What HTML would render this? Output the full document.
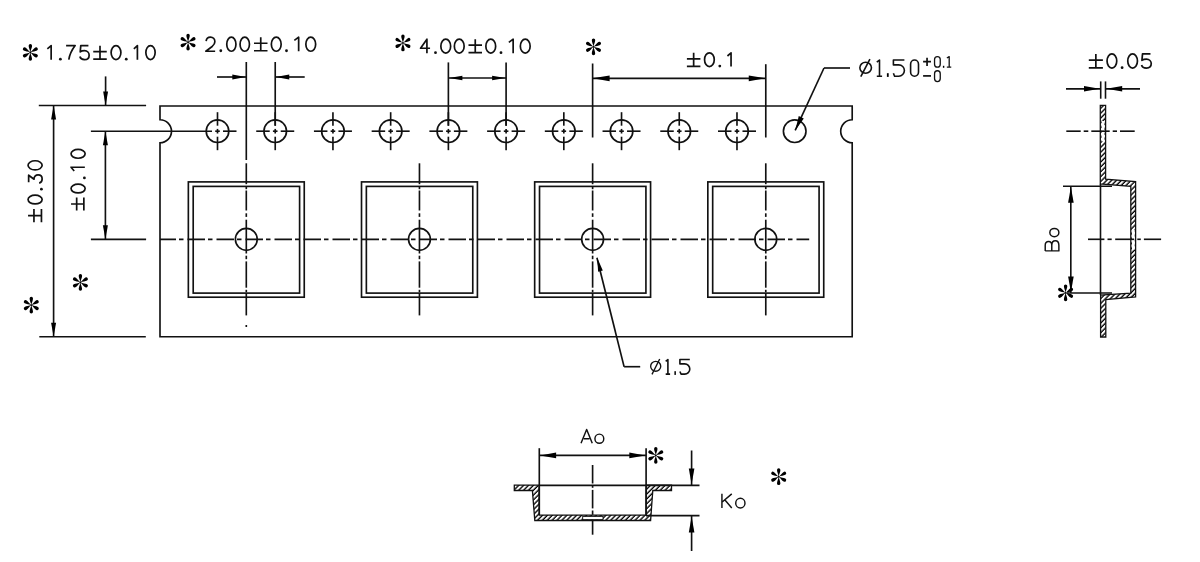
<!DOCTYPE html>
<html><head><meta charset="utf-8"><title>Tape drawing</title>
<style>html,body{margin:0;padding:0;background:#fff;width:1200px;height:562px;overflow:hidden}text{font-family:"Liberation Sans",sans-serif}</style>
</head><body>
<svg width="1200" height="562" viewBox="0 0 1200 562" style="display:block">
<defs><pattern id="hatch" patternUnits="userSpaceOnUse" width="3.45" height="3.45" patternTransform="rotate(45)"><rect width="3.45" height="3.45" fill="#000"/><rect x="0" y="0" width="2.1" height="3.45" fill="#fff"/></pattern></defs>
<rect width="1200" height="562" fill="#fff"/>
<g stroke="#111" fill="none" stroke-linecap="butt">
<path d="M 160.0 106.0 L 852.2 106.0 L 852.2 119.69999999999999 A 11.5 11.5 0 0 0 852.2 142.7 L 852.2 336.7 L 160.0 336.7 L 160.0 142.7 A 11.5 11.5 0 0 0 160.0 119.69999999999999 Z" fill="none" stroke-width="1.65" stroke-linejoin="miter"/>
<circle cx="217.50" cy="131.20" r="11.30" fill="none" stroke-width="1.65"/>
<line x1="223.00" y1="131.20" x2="236.50" y2="131.20" stroke-width="1.65" />
<line x1="215.20" y1="131.20" x2="219.80" y2="131.20" stroke-width="1.65" />
<line x1="217.50" y1="112.20" x2="217.50" y2="125.70" stroke-width="1.65" />
<line x1="217.50" y1="136.70" x2="217.50" y2="150.20" stroke-width="1.65" />
<line x1="217.50" y1="128.90" x2="217.50" y2="133.50" stroke-width="1.65" />
<circle cx="275.22" cy="131.20" r="11.30" fill="none" stroke-width="1.65"/>
<line x1="256.22" y1="131.20" x2="269.72" y2="131.20" stroke-width="1.65" />
<line x1="280.72" y1="131.20" x2="294.22" y2="131.20" stroke-width="1.65" />
<line x1="272.92" y1="131.20" x2="277.52" y2="131.20" stroke-width="1.65" />
<line x1="275.22" y1="112.20" x2="275.22" y2="125.70" stroke-width="1.65" />
<line x1="275.22" y1="136.70" x2="275.22" y2="150.20" stroke-width="1.65" />
<line x1="275.22" y1="128.90" x2="275.22" y2="133.50" stroke-width="1.65" />
<circle cx="332.94" cy="131.20" r="11.30" fill="none" stroke-width="1.65"/>
<line x1="313.94" y1="131.20" x2="327.44" y2="131.20" stroke-width="1.65" />
<line x1="338.44" y1="131.20" x2="351.94" y2="131.20" stroke-width="1.65" />
<line x1="330.64" y1="131.20" x2="335.24" y2="131.20" stroke-width="1.65" />
<line x1="332.94" y1="112.20" x2="332.94" y2="125.70" stroke-width="1.65" />
<line x1="332.94" y1="136.70" x2="332.94" y2="150.20" stroke-width="1.65" />
<line x1="332.94" y1="128.90" x2="332.94" y2="133.50" stroke-width="1.65" />
<circle cx="390.66" cy="131.20" r="11.30" fill="none" stroke-width="1.65"/>
<line x1="371.66" y1="131.20" x2="385.16" y2="131.20" stroke-width="1.65" />
<line x1="396.16" y1="131.20" x2="409.66" y2="131.20" stroke-width="1.65" />
<line x1="388.36" y1="131.20" x2="392.96" y2="131.20" stroke-width="1.65" />
<line x1="390.66" y1="112.20" x2="390.66" y2="125.70" stroke-width="1.65" />
<line x1="390.66" y1="136.70" x2="390.66" y2="150.20" stroke-width="1.65" />
<line x1="390.66" y1="128.90" x2="390.66" y2="133.50" stroke-width="1.65" />
<circle cx="448.38" cy="131.20" r="11.30" fill="none" stroke-width="1.65"/>
<line x1="429.38" y1="131.20" x2="442.88" y2="131.20" stroke-width="1.65" />
<line x1="453.88" y1="131.20" x2="467.38" y2="131.20" stroke-width="1.65" />
<line x1="446.08" y1="131.20" x2="450.68" y2="131.20" stroke-width="1.65" />
<line x1="448.38" y1="112.20" x2="448.38" y2="125.70" stroke-width="1.65" />
<line x1="448.38" y1="136.70" x2="448.38" y2="150.20" stroke-width="1.65" />
<line x1="448.38" y1="128.90" x2="448.38" y2="133.50" stroke-width="1.65" />
<circle cx="506.10" cy="131.20" r="11.30" fill="none" stroke-width="1.65"/>
<line x1="487.10" y1="131.20" x2="500.60" y2="131.20" stroke-width="1.65" />
<line x1="511.60" y1="131.20" x2="525.10" y2="131.20" stroke-width="1.65" />
<line x1="503.80" y1="131.20" x2="508.40" y2="131.20" stroke-width="1.65" />
<line x1="506.10" y1="112.20" x2="506.10" y2="125.70" stroke-width="1.65" />
<line x1="506.10" y1="136.70" x2="506.10" y2="150.20" stroke-width="1.65" />
<line x1="506.10" y1="128.90" x2="506.10" y2="133.50" stroke-width="1.65" />
<circle cx="563.82" cy="131.20" r="11.30" fill="none" stroke-width="1.65"/>
<line x1="544.82" y1="131.20" x2="558.32" y2="131.20" stroke-width="1.65" />
<line x1="569.32" y1="131.20" x2="582.82" y2="131.20" stroke-width="1.65" />
<line x1="561.52" y1="131.20" x2="566.12" y2="131.20" stroke-width="1.65" />
<line x1="563.82" y1="112.20" x2="563.82" y2="125.70" stroke-width="1.65" />
<line x1="563.82" y1="136.70" x2="563.82" y2="150.20" stroke-width="1.65" />
<line x1="563.82" y1="128.90" x2="563.82" y2="133.50" stroke-width="1.65" />
<circle cx="621.54" cy="131.20" r="11.30" fill="none" stroke-width="1.65"/>
<line x1="602.54" y1="131.20" x2="616.04" y2="131.20" stroke-width="1.65" />
<line x1="627.04" y1="131.20" x2="640.54" y2="131.20" stroke-width="1.65" />
<line x1="619.24" y1="131.20" x2="623.84" y2="131.20" stroke-width="1.65" />
<line x1="621.54" y1="112.20" x2="621.54" y2="125.70" stroke-width="1.65" />
<line x1="621.54" y1="136.70" x2="621.54" y2="150.20" stroke-width="1.65" />
<line x1="621.54" y1="128.90" x2="621.54" y2="133.50" stroke-width="1.65" />
<circle cx="679.26" cy="131.20" r="11.30" fill="none" stroke-width="1.65"/>
<line x1="660.26" y1="131.20" x2="673.76" y2="131.20" stroke-width="1.65" />
<line x1="684.76" y1="131.20" x2="698.26" y2="131.20" stroke-width="1.65" />
<line x1="676.96" y1="131.20" x2="681.56" y2="131.20" stroke-width="1.65" />
<line x1="679.26" y1="112.20" x2="679.26" y2="125.70" stroke-width="1.65" />
<line x1="679.26" y1="136.70" x2="679.26" y2="150.20" stroke-width="1.65" />
<line x1="679.26" y1="128.90" x2="679.26" y2="133.50" stroke-width="1.65" />
<circle cx="736.98" cy="131.20" r="11.30" fill="none" stroke-width="1.65"/>
<line x1="717.98" y1="131.20" x2="731.48" y2="131.20" stroke-width="1.65" />
<line x1="742.48" y1="131.20" x2="755.98" y2="131.20" stroke-width="1.65" />
<line x1="734.68" y1="131.20" x2="739.28" y2="131.20" stroke-width="1.65" />
<line x1="736.98" y1="112.20" x2="736.98" y2="125.70" stroke-width="1.65" />
<line x1="736.98" y1="136.70" x2="736.98" y2="150.20" stroke-width="1.65" />
<line x1="736.98" y1="128.90" x2="736.98" y2="133.50" stroke-width="1.65" />
<circle cx="794.70" cy="131.20" r="11.30" fill="none" stroke-width="1.65"/>
<line x1="90.90" y1="131.20" x2="212.00" y2="131.20" stroke-width="1.65" />
<rect x="188.35" y="181.9" width="115.9" height="115.3" fill="none" stroke-width="1.65"/>
<rect x="193.20" y="186.4" width="106.4" height="106.7" fill="none" stroke-width="1.65"/>
<circle cx="246.30" cy="239.30" r="10.90" fill="none" stroke-width="1.65"/>
<line x1="246.30" y1="163.30" x2="246.30" y2="184.20" stroke-width="1.65" />
<line x1="246.30" y1="186.40" x2="246.30" y2="189.20" stroke-width="1.65" />
<line x1="246.30" y1="190.50" x2="246.30" y2="210.50" stroke-width="1.65" />
<line x1="246.30" y1="213.30" x2="246.30" y2="216.90" stroke-width="1.65" />
<line x1="246.30" y1="219.70" x2="246.30" y2="253.50" stroke-width="1.65" />
<line x1="246.30" y1="255.70" x2="246.30" y2="259.20" stroke-width="1.65" />
<line x1="246.30" y1="261.40" x2="246.30" y2="287.70" stroke-width="1.65" />
<line x1="246.30" y1="289.80" x2="246.30" y2="292.20" stroke-width="1.65" />
<line x1="246.30" y1="293.20" x2="246.30" y2="315.40" stroke-width="1.65" />
<rect x="361.51" y="181.9" width="115.9" height="115.3" fill="none" stroke-width="1.65"/>
<rect x="366.36" y="186.4" width="106.4" height="106.7" fill="none" stroke-width="1.65"/>
<circle cx="419.46" cy="239.30" r="10.90" fill="none" stroke-width="1.65"/>
<line x1="419.46" y1="163.30" x2="419.46" y2="184.20" stroke-width="1.65" />
<line x1="419.46" y1="186.40" x2="419.46" y2="189.20" stroke-width="1.65" />
<line x1="419.46" y1="190.50" x2="419.46" y2="210.50" stroke-width="1.65" />
<line x1="419.46" y1="213.30" x2="419.46" y2="216.90" stroke-width="1.65" />
<line x1="419.46" y1="219.70" x2="419.46" y2="253.50" stroke-width="1.65" />
<line x1="419.46" y1="255.70" x2="419.46" y2="259.20" stroke-width="1.65" />
<line x1="419.46" y1="261.40" x2="419.46" y2="287.70" stroke-width="1.65" />
<line x1="419.46" y1="289.80" x2="419.46" y2="292.20" stroke-width="1.65" />
<line x1="419.46" y1="293.20" x2="419.46" y2="315.40" stroke-width="1.65" />
<rect x="534.67" y="181.9" width="115.9" height="115.3" fill="none" stroke-width="1.65"/>
<rect x="539.52" y="186.4" width="106.4" height="106.7" fill="none" stroke-width="1.65"/>
<circle cx="592.62" cy="239.30" r="10.90" fill="none" stroke-width="1.65"/>
<line x1="592.62" y1="163.30" x2="592.62" y2="184.20" stroke-width="1.65" />
<line x1="592.62" y1="186.40" x2="592.62" y2="189.20" stroke-width="1.65" />
<line x1="592.62" y1="190.50" x2="592.62" y2="210.50" stroke-width="1.65" />
<line x1="592.62" y1="213.30" x2="592.62" y2="216.90" stroke-width="1.65" />
<line x1="592.62" y1="219.70" x2="592.62" y2="253.50" stroke-width="1.65" />
<line x1="592.62" y1="255.70" x2="592.62" y2="259.20" stroke-width="1.65" />
<line x1="592.62" y1="261.40" x2="592.62" y2="287.70" stroke-width="1.65" />
<line x1="592.62" y1="289.80" x2="592.62" y2="292.20" stroke-width="1.65" />
<line x1="592.62" y1="293.20" x2="592.62" y2="315.40" stroke-width="1.65" />
<rect x="707.83" y="181.9" width="115.9" height="115.3" fill="none" stroke-width="1.65"/>
<rect x="712.68" y="186.4" width="106.4" height="106.7" fill="none" stroke-width="1.65"/>
<circle cx="765.78" cy="239.30" r="10.90" fill="none" stroke-width="1.65"/>
<line x1="765.78" y1="163.30" x2="765.78" y2="184.20" stroke-width="1.65" />
<line x1="765.78" y1="186.40" x2="765.78" y2="189.20" stroke-width="1.65" />
<line x1="765.78" y1="190.50" x2="765.78" y2="210.50" stroke-width="1.65" />
<line x1="765.78" y1="213.30" x2="765.78" y2="216.90" stroke-width="1.65" />
<line x1="765.78" y1="219.70" x2="765.78" y2="253.50" stroke-width="1.65" />
<line x1="765.78" y1="255.70" x2="765.78" y2="259.20" stroke-width="1.65" />
<line x1="765.78" y1="261.40" x2="765.78" y2="287.70" stroke-width="1.65" />
<line x1="765.78" y1="289.80" x2="765.78" y2="292.20" stroke-width="1.65" />
<line x1="765.78" y1="293.20" x2="765.78" y2="315.40" stroke-width="1.65" />
<line x1="246.30" y1="325.00" x2="246.30" y2="327.00" stroke-width="1.65" />
<line x1="160.00" y1="239.30" x2="809.20" y2="239.30" stroke-width="1.65" stroke-dasharray="17.5 3 4.5 4" stroke-dashoffset="1.5"/>
<line x1="38.80" y1="105.50" x2="146.10" y2="105.50" stroke-width="1.65" />
<line x1="90.90" y1="239.30" x2="146.10" y2="239.30" stroke-width="1.65" />
<line x1="39.30" y1="336.70" x2="145.80" y2="336.70" stroke-width="1.65" />
<line x1="53.60" y1="105.50" x2="53.60" y2="336.70" stroke-width="1.65" />
<polygon points="53.60,105.50 56.10,119.50 51.10,119.50" fill="#000" stroke="none"/>
<polygon points="53.60,336.70 51.10,322.70 56.10,322.70" fill="#000" stroke="none"/>
<line x1="105.40" y1="131.20" x2="105.40" y2="239.30" stroke-width="1.65" />
<polygon points="105.40,131.20 107.90,145.20 102.90,145.20" fill="#000" stroke="none"/>
<polygon points="105.40,239.30 102.90,225.30 107.90,225.30" fill="#000" stroke="none"/>
<line x1="105.60" y1="76.40" x2="105.60" y2="105.50" stroke-width="1.65" />
<polygon points="105.60,105.50 103.15,91.50 108.05,91.50" fill="#000" stroke="none"/>
<line x1="246.30" y1="62.00" x2="246.30" y2="160.00" stroke-width="1.65" />
<line x1="275.22" y1="62.00" x2="275.22" y2="125.70" stroke-width="1.65" />
<line x1="217.00" y1="77.00" x2="246.30" y2="77.00" stroke-width="1.65" />
<polygon points="245.80,77.00 232.30,79.40 232.30,74.60" fill="#000" stroke="none"/>
<line x1="275.22" y1="77.00" x2="304.70" y2="77.00" stroke-width="1.65" />
<polygon points="275.72,77.00 289.22,74.60 289.22,79.40" fill="#000" stroke="none"/>
<line x1="448.38" y1="62.40" x2="448.38" y2="125.70" stroke-width="1.65" />
<line x1="506.10" y1="62.40" x2="506.10" y2="125.70" stroke-width="1.65" />
<line x1="448.38" y1="78.00" x2="506.10" y2="78.00" stroke-width="1.65" />
<polygon points="448.98,78.00 462.38,75.65 462.38,80.35" fill="#000" stroke="none"/>
<polygon points="505.50,78.00 492.10,80.35 492.10,75.65" fill="#000" stroke="none"/>
<line x1="592.62" y1="63.50" x2="592.62" y2="137.50" stroke-width="1.65" />
<line x1="765.78" y1="64.20" x2="765.78" y2="137.50" stroke-width="1.65" />
<line x1="592.62" y1="78.30" x2="765.78" y2="78.30" stroke-width="1.65" />
<polygon points="592.62,78.30 609.62,75.45 609.62,81.15" fill="#000" stroke="none"/>
<polygon points="765.78,78.30 748.78,81.15 748.78,75.45" fill="#000" stroke="none"/>
<line x1="795.20" y1="130.40" x2="824.00" y2="68.00" stroke-width="1.65" />
<polygon points="795.20,130.40 798.78,116.08 803.77,118.39" fill="#000" stroke="none"/>
<line x1="824.00" y1="68.00" x2="850.00" y2="68.00" stroke-width="1.65" />
<line x1="596.90" y1="257.80" x2="624.10" y2="366.70" stroke-width="1.65" />
<polygon points="597.10,257.50 602.79,270.51 598.13,271.67" fill="#000" stroke="none"/>
<line x1="624.10" y1="366.70" x2="640.20" y2="366.70" stroke-width="1.65" />
<path d="M 1100.3 105.3 L 1105.6 105.3 L 1105.6 179.2 L 1135.6 181.6 L 1135.6 297.0 L 1105.8 299.5 L 1105.8 337.0 L 1100.6 337.0 L 1100.6 295.0 L 1130.8 293.2 L 1130.8 186.3 L 1100.3 183.9 Z" fill="url(#hatch)" stroke-width="1.3" />
<rect x="1101.6" y="120.9" width="2.8" height="20.5" fill="#fff" stroke="none"/>
<rect x="1132.0" y="230.0" width="2.7" height="19.5" fill="#fff" stroke="none"/>
<line x1="1100.50" y1="183.90" x2="1100.50" y2="295.00" stroke-width="1.6" />
<line x1="1063.00" y1="186.20" x2="1112.00" y2="186.20" stroke-width="1.65" />
<line x1="1067.00" y1="293.00" x2="1112.00" y2="293.00" stroke-width="1.65" />
<line x1="1070.80" y1="186.30" x2="1070.80" y2="293.00" stroke-width="1.65" />
<polygon points="1070.90,187.00 1073.70,202.80 1068.10,202.80" fill="#000" stroke="none"/>
<polygon points="1070.90,292.30 1068.10,276.50 1073.70,276.50" fill="#000" stroke="none"/>
<line x1="1066.30" y1="131.20" x2="1080.70" y2="131.20" stroke-width="1.65" />
<line x1="1083.70" y1="131.20" x2="1088.30" y2="131.20" stroke-width="1.65" />
<line x1="1091.30" y1="131.20" x2="1109.70" y2="131.20" stroke-width="1.65" />
<line x1="1112.70" y1="131.20" x2="1117.00" y2="131.20" stroke-width="1.65" />
<line x1="1120.00" y1="131.20" x2="1134.70" y2="131.20" stroke-width="1.65" />
<line x1="1088.00" y1="239.30" x2="1104.40" y2="239.30" stroke-width="1.65" />
<line x1="1107.50" y1="239.30" x2="1111.70" y2="239.30" stroke-width="1.65" />
<line x1="1115.20" y1="239.30" x2="1134.10" y2="239.30" stroke-width="1.65" />
<line x1="1137.30" y1="239.30" x2="1140.80" y2="239.30" stroke-width="1.65" />
<line x1="1143.90" y1="239.30" x2="1161.10" y2="239.30" stroke-width="1.65" />
<line x1="1100.70" y1="81.40" x2="1100.70" y2="98.70" stroke-width="1.6" />
<line x1="1105.50" y1="81.40" x2="1105.50" y2="98.70" stroke-width="1.6" />
<line x1="1066.00" y1="88.80" x2="1100.70" y2="88.80" stroke-width="1.65" />
<polygon points="1099.60,88.80 1084.00,91.60 1084.00,86.00" fill="#000" stroke="none"/>
<line x1="1105.50" y1="88.80" x2="1140.00" y2="88.80" stroke-width="1.65" />
<polygon points="1106.40,88.80 1122.20,86.00 1122.20,91.60" fill="#000" stroke="none"/>
<path d="M 514.3 485.1 L 539.1 485.1 L 539.3 515.1 L 646.0 515.1 L 646.2 485.1 L 671.5 485.1 L 671.5 490.5 L 652.8 490.5 L 650.6 520.5 L 534.8 520.5 L 532.4 490.5 L 514.3 490.5 Z" fill="url(#hatch)" stroke-width="1.3" />
<line x1="539.30" y1="448.20" x2="539.30" y2="515.10" stroke-width="1.65" />
<line x1="646.10" y1="448.20" x2="646.10" y2="515.10" stroke-width="1.65" />
<line x1="539.30" y1="455.40" x2="646.10" y2="455.40" stroke-width="1.65" />
<polygon points="540.10,455.40 556.10,452.60 556.10,458.20" fill="#000" stroke="none"/>
<polygon points="645.30,455.40 629.30,458.20 629.30,452.60" fill="#000" stroke="none"/>
<line x1="539.30" y1="485.30" x2="699.50" y2="485.30" stroke-width="1.65" />
<line x1="646.00" y1="515.60" x2="699.50" y2="515.60" stroke-width="1.65" />
<line x1="592.60" y1="465.00" x2="592.60" y2="483.50" stroke-width="1.65" />
<line x1="592.60" y1="485.60" x2="592.60" y2="487.80" stroke-width="1.65" />
<line x1="592.60" y1="489.90" x2="592.60" y2="508.40" stroke-width="1.65" />
<line x1="592.60" y1="510.50" x2="592.60" y2="514.80" stroke-width="1.65" />
<line x1="592.60" y1="520.50" x2="592.60" y2="534.70" stroke-width="1.65" />
<rect x="582.7" y="516.4" width="20.3" height="3.2" fill="#fff" stroke="#111" stroke-width="0.9"/>
<line x1="691.60" y1="450.50" x2="691.60" y2="485.30" stroke-width="1.65" />
<polygon points="691.60,484.60 688.80,468.60 694.40,468.60" fill="#000" stroke="none"/>
<line x1="691.60" y1="515.60" x2="691.60" y2="551.00" stroke-width="1.65" />
<polygon points="691.60,516.40 694.40,532.40 688.80,532.40" fill="#000" stroke="none"/>
<g transform="translate(30.35 52.40)" fill="#000" stroke="none"><path d="M 0 0 C -0.45 -2.6 -1.70 -4.70 -1.70 -6.70 A 1.7 1.7 0 0 1 1.70 -6.70 C 1.70 -4.70 0.45 -2.6 0 0 Z" transform="rotate(0)"/><path d="M 0 0 C -0.45 -2.6 -1.70 -4.70 -1.70 -6.70 A 1.7 1.7 0 0 1 1.70 -6.70 C 1.70 -4.70 0.45 -2.6 0 0 Z" transform="rotate(60)"/><path d="M 0 0 C -0.45 -2.6 -1.70 -4.70 -1.70 -6.70 A 1.7 1.7 0 0 1 1.70 -6.70 C 1.70 -4.70 0.45 -2.6 0 0 Z" transform="rotate(120)"/><path d="M 0 0 C -0.45 -2.6 -1.70 -4.70 -1.70 -6.70 A 1.7 1.7 0 0 1 1.70 -6.70 C 1.70 -4.70 0.45 -2.6 0 0 Z" transform="rotate(180)"/><path d="M 0 0 C -0.45 -2.6 -1.70 -4.70 -1.70 -6.70 A 1.7 1.7 0 0 1 1.70 -6.70 C 1.70 -4.70 0.45 -2.6 0 0 Z" transform="rotate(240)"/><path d="M 0 0 C -0.45 -2.6 -1.70 -4.70 -1.70 -6.70 A 1.7 1.7 0 0 1 1.70 -6.70 C 1.70 -4.70 0.45 -2.6 0 0 Z" transform="rotate(300)"/><circle r="0.9"/></g>
<g transform="translate(188.07 42.13)" fill="#000" stroke="none"><path d="M 0 0 C -0.45 -2.6 -1.70 -4.70 -1.70 -6.70 A 1.7 1.7 0 0 1 1.70 -6.70 C 1.70 -4.70 0.45 -2.6 0 0 Z" transform="rotate(0)"/><path d="M 0 0 C -0.45 -2.6 -1.70 -4.70 -1.70 -6.70 A 1.7 1.7 0 0 1 1.70 -6.70 C 1.70 -4.70 0.45 -2.6 0 0 Z" transform="rotate(60)"/><path d="M 0 0 C -0.45 -2.6 -1.70 -4.70 -1.70 -6.70 A 1.7 1.7 0 0 1 1.70 -6.70 C 1.70 -4.70 0.45 -2.6 0 0 Z" transform="rotate(120)"/><path d="M 0 0 C -0.45 -2.6 -1.70 -4.70 -1.70 -6.70 A 1.7 1.7 0 0 1 1.70 -6.70 C 1.70 -4.70 0.45 -2.6 0 0 Z" transform="rotate(180)"/><path d="M 0 0 C -0.45 -2.6 -1.70 -4.70 -1.70 -6.70 A 1.7 1.7 0 0 1 1.70 -6.70 C 1.70 -4.70 0.45 -2.6 0 0 Z" transform="rotate(240)"/><path d="M 0 0 C -0.45 -2.6 -1.70 -4.70 -1.70 -6.70 A 1.7 1.7 0 0 1 1.70 -6.70 C 1.70 -4.70 0.45 -2.6 0 0 Z" transform="rotate(300)"/><circle r="0.9"/></g>
<g transform="translate(402.94 42.95)" fill="#000" stroke="none"><path d="M 0 0 C -0.45 -2.6 -1.70 -4.70 -1.70 -6.70 A 1.7 1.7 0 0 1 1.70 -6.70 C 1.70 -4.70 0.45 -2.6 0 0 Z" transform="rotate(0)"/><path d="M 0 0 C -0.45 -2.6 -1.70 -4.70 -1.70 -6.70 A 1.7 1.7 0 0 1 1.70 -6.70 C 1.70 -4.70 0.45 -2.6 0 0 Z" transform="rotate(60)"/><path d="M 0 0 C -0.45 -2.6 -1.70 -4.70 -1.70 -6.70 A 1.7 1.7 0 0 1 1.70 -6.70 C 1.70 -4.70 0.45 -2.6 0 0 Z" transform="rotate(120)"/><path d="M 0 0 C -0.45 -2.6 -1.70 -4.70 -1.70 -6.70 A 1.7 1.7 0 0 1 1.70 -6.70 C 1.70 -4.70 0.45 -2.6 0 0 Z" transform="rotate(180)"/><path d="M 0 0 C -0.45 -2.6 -1.70 -4.70 -1.70 -6.70 A 1.7 1.7 0 0 1 1.70 -6.70 C 1.70 -4.70 0.45 -2.6 0 0 Z" transform="rotate(240)"/><path d="M 0 0 C -0.45 -2.6 -1.70 -4.70 -1.70 -6.70 A 1.7 1.7 0 0 1 1.70 -6.70 C 1.70 -4.70 0.45 -2.6 0 0 Z" transform="rotate(300)"/><circle r="0.9"/></g>
<g transform="translate(593.50 46.80)" fill="#000" stroke="none"><path d="M 0 0 C -0.45 -2.6 -1.70 -4.70 -1.70 -6.70 A 1.7 1.7 0 0 1 1.70 -6.70 C 1.70 -4.70 0.45 -2.6 0 0 Z" transform="rotate(0)"/><path d="M 0 0 C -0.45 -2.6 -1.70 -4.70 -1.70 -6.70 A 1.7 1.7 0 0 1 1.70 -6.70 C 1.70 -4.70 0.45 -2.6 0 0 Z" transform="rotate(60)"/><path d="M 0 0 C -0.45 -2.6 -1.70 -4.70 -1.70 -6.70 A 1.7 1.7 0 0 1 1.70 -6.70 C 1.70 -4.70 0.45 -2.6 0 0 Z" transform="rotate(120)"/><path d="M 0 0 C -0.45 -2.6 -1.70 -4.70 -1.70 -6.70 A 1.7 1.7 0 0 1 1.70 -6.70 C 1.70 -4.70 0.45 -2.6 0 0 Z" transform="rotate(180)"/><path d="M 0 0 C -0.45 -2.6 -1.70 -4.70 -1.70 -6.70 A 1.7 1.7 0 0 1 1.70 -6.70 C 1.70 -4.70 0.45 -2.6 0 0 Z" transform="rotate(240)"/><path d="M 0 0 C -0.45 -2.6 -1.70 -4.70 -1.70 -6.70 A 1.7 1.7 0 0 1 1.70 -6.70 C 1.70 -4.70 0.45 -2.6 0 0 Z" transform="rotate(300)"/><circle r="0.9"/></g>
<g transform="translate(80.40 282.40)" fill="#000" stroke="none"><path d="M 0 0 C -0.45 -2.6 -1.70 -4.70 -1.70 -6.70 A 1.7 1.7 0 0 1 1.70 -6.70 C 1.70 -4.70 0.45 -2.6 0 0 Z" transform="rotate(0)"/><path d="M 0 0 C -0.45 -2.6 -1.70 -4.70 -1.70 -6.70 A 1.7 1.7 0 0 1 1.70 -6.70 C 1.70 -4.70 0.45 -2.6 0 0 Z" transform="rotate(60)"/><path d="M 0 0 C -0.45 -2.6 -1.70 -4.70 -1.70 -6.70 A 1.7 1.7 0 0 1 1.70 -6.70 C 1.70 -4.70 0.45 -2.6 0 0 Z" transform="rotate(120)"/><path d="M 0 0 C -0.45 -2.6 -1.70 -4.70 -1.70 -6.70 A 1.7 1.7 0 0 1 1.70 -6.70 C 1.70 -4.70 0.45 -2.6 0 0 Z" transform="rotate(180)"/><path d="M 0 0 C -0.45 -2.6 -1.70 -4.70 -1.70 -6.70 A 1.7 1.7 0 0 1 1.70 -6.70 C 1.70 -4.70 0.45 -2.6 0 0 Z" transform="rotate(240)"/><path d="M 0 0 C -0.45 -2.6 -1.70 -4.70 -1.70 -6.70 A 1.7 1.7 0 0 1 1.70 -6.70 C 1.70 -4.70 0.45 -2.6 0 0 Z" transform="rotate(300)"/><circle r="0.9"/></g>
<g transform="translate(31.30 305.10)" fill="#000" stroke="none"><path d="M 0 0 C -0.45 -2.6 -1.70 -4.70 -1.70 -6.70 A 1.7 1.7 0 0 1 1.70 -6.70 C 1.70 -4.70 0.45 -2.6 0 0 Z" transform="rotate(0)"/><path d="M 0 0 C -0.45 -2.6 -1.70 -4.70 -1.70 -6.70 A 1.7 1.7 0 0 1 1.70 -6.70 C 1.70 -4.70 0.45 -2.6 0 0 Z" transform="rotate(60)"/><path d="M 0 0 C -0.45 -2.6 -1.70 -4.70 -1.70 -6.70 A 1.7 1.7 0 0 1 1.70 -6.70 C 1.70 -4.70 0.45 -2.6 0 0 Z" transform="rotate(120)"/><path d="M 0 0 C -0.45 -2.6 -1.70 -4.70 -1.70 -6.70 A 1.7 1.7 0 0 1 1.70 -6.70 C 1.70 -4.70 0.45 -2.6 0 0 Z" transform="rotate(180)"/><path d="M 0 0 C -0.45 -2.6 -1.70 -4.70 -1.70 -6.70 A 1.7 1.7 0 0 1 1.70 -6.70 C 1.70 -4.70 0.45 -2.6 0 0 Z" transform="rotate(240)"/><path d="M 0 0 C -0.45 -2.6 -1.70 -4.70 -1.70 -6.70 A 1.7 1.7 0 0 1 1.70 -6.70 C 1.70 -4.70 0.45 -2.6 0 0 Z" transform="rotate(300)"/><circle r="0.9"/></g>
<g transform="translate(1065.60 292.80)" fill="#000" stroke="none"><path d="M 0 0 C -0.45 -2.6 -1.70 -4.70 -1.70 -6.70 A 1.7 1.7 0 0 1 1.70 -6.70 C 1.70 -4.70 0.45 -2.6 0 0 Z" transform="rotate(0)"/><path d="M 0 0 C -0.45 -2.6 -1.70 -4.70 -1.70 -6.70 A 1.7 1.7 0 0 1 1.70 -6.70 C 1.70 -4.70 0.45 -2.6 0 0 Z" transform="rotate(60)"/><path d="M 0 0 C -0.45 -2.6 -1.70 -4.70 -1.70 -6.70 A 1.7 1.7 0 0 1 1.70 -6.70 C 1.70 -4.70 0.45 -2.6 0 0 Z" transform="rotate(120)"/><path d="M 0 0 C -0.45 -2.6 -1.70 -4.70 -1.70 -6.70 A 1.7 1.7 0 0 1 1.70 -6.70 C 1.70 -4.70 0.45 -2.6 0 0 Z" transform="rotate(180)"/><path d="M 0 0 C -0.45 -2.6 -1.70 -4.70 -1.70 -6.70 A 1.7 1.7 0 0 1 1.70 -6.70 C 1.70 -4.70 0.45 -2.6 0 0 Z" transform="rotate(240)"/><path d="M 0 0 C -0.45 -2.6 -1.70 -4.70 -1.70 -6.70 A 1.7 1.7 0 0 1 1.70 -6.70 C 1.70 -4.70 0.45 -2.6 0 0 Z" transform="rotate(300)"/><circle r="0.9"/></g>
<g transform="translate(655.80 455.40)" fill="#000" stroke="none"><path d="M 0 0 C -0.45 -2.6 -1.70 -4.70 -1.70 -6.70 A 1.7 1.7 0 0 1 1.70 -6.70 C 1.70 -4.70 0.45 -2.6 0 0 Z" transform="rotate(0)"/><path d="M 0 0 C -0.45 -2.6 -1.70 -4.70 -1.70 -6.70 A 1.7 1.7 0 0 1 1.70 -6.70 C 1.70 -4.70 0.45 -2.6 0 0 Z" transform="rotate(60)"/><path d="M 0 0 C -0.45 -2.6 -1.70 -4.70 -1.70 -6.70 A 1.7 1.7 0 0 1 1.70 -6.70 C 1.70 -4.70 0.45 -2.6 0 0 Z" transform="rotate(120)"/><path d="M 0 0 C -0.45 -2.6 -1.70 -4.70 -1.70 -6.70 A 1.7 1.7 0 0 1 1.70 -6.70 C 1.70 -4.70 0.45 -2.6 0 0 Z" transform="rotate(180)"/><path d="M 0 0 C -0.45 -2.6 -1.70 -4.70 -1.70 -6.70 A 1.7 1.7 0 0 1 1.70 -6.70 C 1.70 -4.70 0.45 -2.6 0 0 Z" transform="rotate(240)"/><path d="M 0 0 C -0.45 -2.6 -1.70 -4.70 -1.70 -6.70 A 1.7 1.7 0 0 1 1.70 -6.70 C 1.70 -4.70 0.45 -2.6 0 0 Z" transform="rotate(300)"/><circle r="0.9"/></g>
<g transform="translate(778.70 476.70)" fill="#000" stroke="none"><path d="M 0 0 C -0.45 -2.6 -1.70 -4.70 -1.70 -6.70 A 1.7 1.7 0 0 1 1.70 -6.70 C 1.70 -4.70 0.45 -2.6 0 0 Z" transform="rotate(0)"/><path d="M 0 0 C -0.45 -2.6 -1.70 -4.70 -1.70 -6.70 A 1.7 1.7 0 0 1 1.70 -6.70 C 1.70 -4.70 0.45 -2.6 0 0 Z" transform="rotate(60)"/><path d="M 0 0 C -0.45 -2.6 -1.70 -4.70 -1.70 -6.70 A 1.7 1.7 0 0 1 1.70 -6.70 C 1.70 -4.70 0.45 -2.6 0 0 Z" transform="rotate(120)"/><path d="M 0 0 C -0.45 -2.6 -1.70 -4.70 -1.70 -6.70 A 1.7 1.7 0 0 1 1.70 -6.70 C 1.70 -4.70 0.45 -2.6 0 0 Z" transform="rotate(180)"/><path d="M 0 0 C -0.45 -2.6 -1.70 -4.70 -1.70 -6.70 A 1.7 1.7 0 0 1 1.70 -6.70 C 1.70 -4.70 0.45 -2.6 0 0 Z" transform="rotate(240)"/><path d="M 0 0 C -0.45 -2.6 -1.70 -4.70 -1.70 -6.70 A 1.7 1.7 0 0 1 1.70 -6.70 C 1.70 -4.70 0.45 -2.6 0 0 Z" transform="rotate(300)"/><circle r="0.9"/></g>
<path d="M 47.35 48.83 L 51.15 45.60 L 51.15 59.65" fill="none" stroke-width="1.7" stroke-linejoin="round" stroke-linecap="butt"/>
<circle cx="60.38" cy="59.15" r="1.4" fill="#111" stroke="none"/>
<path d="M 66.10 45.60 L 75.15 45.60 C 71.98 49.81 69.54 54.73 68.81 59.65" fill="none" stroke-width="1.7" stroke-linejoin="round" stroke-linecap="butt"/>
<path d="M 88.41 45.60 L 80.78 45.60 L 80.22 51.92 C 81.52 50.94 82.92 50.66 84.50 50.66 C 87.29 50.66 89.15 52.91 89.15 55.15 C 89.15 57.96 87.29 59.65 84.50 59.65 C 82.17 59.65 80.31 58.25 79.85 56.56" fill="none" stroke-width="1.7" stroke-linejoin="round" stroke-linecap="butt"/>
<path d="M 100.00 45.85 L 100.00 59.05 M 93.25 51.66 L 106.75 51.66 M 93.25 59.05 L 106.75 59.05" fill="none" stroke-width="1.7" stroke-linejoin="round" stroke-linecap="butt"/>
<ellipse cx="116.00" cy="52.62" rx="4.90" ry="7.03" fill="none" stroke-width="1.7"/>
<circle cx="126.25" cy="59.15" r="1.4" fill="#111" stroke="none"/>
<path d="M 133.85 48.83 L 137.40 45.60 L 137.40 59.65" fill="none" stroke-width="1.7" stroke-linejoin="round" stroke-linecap="butt"/>
<ellipse cx="150.50" cy="52.62" rx="4.65" ry="7.03" fill="none" stroke-width="1.7"/>
<path d="M 206.13 41.10 C 206.41 38.56 208.08 37.15 210.50 37.15 C 213.01 37.15 214.87 39.12 214.87 41.66 C 214.87 43.78 213.75 45.05 212.17 46.46 L 205.85 51.25 L 215.15 51.25" fill="none" stroke-width="1.7" stroke-linejoin="round" stroke-linecap="butt"/>
<circle cx="220.80" cy="50.75" r="1.4" fill="#111" stroke="none"/>
<ellipse cx="231.35" cy="44.20" rx="4.60" ry="7.05" fill="none" stroke-width="1.7"/>
<ellipse cx="244.75" cy="44.20" rx="4.70" ry="7.05" fill="none" stroke-width="1.7"/>
<path d="M 260.75 37.35 L 260.75 50.75 M 254.00 43.25 L 267.50 43.25 M 254.00 50.75 L 267.50 50.75" fill="none" stroke-width="1.7" stroke-linejoin="round" stroke-linecap="butt"/>
<ellipse cx="276.25" cy="44.20" rx="4.90" ry="7.05" fill="none" stroke-width="1.7"/>
<circle cx="286.50" cy="50.75" r="1.4" fill="#111" stroke="none"/>
<path d="M 294.35 40.39 L 298.65 37.15 L 298.65 51.25" fill="none" stroke-width="1.7" stroke-linejoin="round" stroke-linecap="butt"/>
<ellipse cx="310.75" cy="44.20" rx="4.90" ry="7.05" fill="none" stroke-width="1.7"/>
<path d="M 426.92 53.15 L 426.92 39.15 L 420.55 48.25 L 430.05 48.25" fill="none" stroke-width="1.7" stroke-linejoin="round" stroke-linecap="butt"/>
<circle cx="435.50" cy="52.65" r="1.4" fill="#111" stroke="none"/>
<ellipse cx="445.75" cy="46.15" rx="4.90" ry="7.00" fill="none" stroke-width="1.7"/>
<ellipse cx="459.25" cy="46.15" rx="4.90" ry="7.00" fill="none" stroke-width="1.7"/>
<path d="M 475.25 39.35 L 475.25 52.65 M 468.50 45.20 L 482.00 45.20 M 468.50 52.65 L 482.00 52.65" fill="none" stroke-width="1.7" stroke-linejoin="round" stroke-linecap="butt"/>
<ellipse cx="490.75" cy="46.15" rx="4.90" ry="7.00" fill="none" stroke-width="1.7"/>
<circle cx="501.00" cy="52.65" r="1.4" fill="#111" stroke="none"/>
<path d="M 508.85 42.37 L 513.15 39.15 L 513.15 53.15" fill="none" stroke-width="1.7" stroke-linejoin="round" stroke-linecap="butt"/>
<ellipse cx="525.25" cy="46.15" rx="4.90" ry="7.00" fill="none" stroke-width="1.7"/>
<path d="M 693.65 52.85 L 693.65 66.35 M 686.90 58.79 L 700.40 58.79 M 686.90 66.35 L 700.40 66.35" fill="none" stroke-width="1.7" stroke-linejoin="round" stroke-linecap="butt"/>
<ellipse cx="709.40" cy="59.70" rx="4.85" ry="6.85" fill="none" stroke-width="1.7"/>
<circle cx="719.80" cy="66.05" r="1.4" fill="#111" stroke="none"/>
<path d="M 727.45 56.00 L 731.05 52.85 L 731.05 66.55" fill="none" stroke-width="1.7" stroke-linejoin="round" stroke-linecap="butt"/>
<path d="M 1095.85 53.95 L 1095.85 67.95 M 1088.80 60.11 L 1102.90 60.11 M 1088.80 67.95 L 1102.90 67.95" fill="none" stroke-width="1.7" stroke-linejoin="round" stroke-linecap="butt"/>
<ellipse cx="1111.90" cy="61.05" rx="4.85" ry="7.10" fill="none" stroke-width="1.7"/>
<circle cx="1122.10" cy="67.65" r="1.4" fill="#111" stroke="none"/>
<ellipse cx="1132.60" cy="61.05" rx="4.85" ry="7.10" fill="none" stroke-width="1.7"/>
<path d="M 1150.47 53.95 L 1142.52 53.95 L 1141.94 60.34 C 1143.30 59.35 1144.75 59.06 1146.40 59.06 C 1149.31 59.06 1151.25 61.33 1151.25 63.61 C 1151.25 66.45 1149.31 68.15 1146.40 68.15 C 1143.97 68.15 1142.03 66.73 1141.55 65.03" fill="none" stroke-width="1.7" stroke-linejoin="round" stroke-linecap="butt"/>
<path d="M 581.02 443.28 L 586.65 429.43 L 592.27 443.28 M 583.84 438.70 L 589.46 438.70" fill="none" stroke-width="1.45" stroke-linejoin="round" stroke-linecap="butt"/>
<ellipse cx="599.35" cy="438.70" rx="4.42" ry="4.58" fill="none" stroke-width="1.45"/>
<path d="M 721.93 493.83 L 721.93 507.98 M 731.77 493.83 L 721.93 502.31 M 725.18 500.19 L 731.77 507.98" fill="none" stroke-width="1.45" stroke-linejoin="round" stroke-linecap="butt"/>
<ellipse cx="740.35" cy="503.15" rx="4.63" ry="4.82" fill="none" stroke-width="1.45"/>
<path d="M 1045.22 250.88 L 1045.22 245.35 C 1045.22 242.63 1046.86 241.53 1048.64 241.53 C 1050.41 241.53 1051.78 242.63 1051.78 245.35 L 1051.78 250.88 M 1051.78 245.35 C 1051.78 242.33 1053.41 240.82 1055.33 240.82 C 1057.51 240.82 1058.87 242.33 1058.87 245.35 L 1058.87 250.88 L 1045.22 250.88" fill="none" stroke-width="1.45" stroke-linejoin="round" stroke-linecap="butt"/>
<ellipse cx="1054.35" cy="232.55" rx="4.53" ry="4.13" fill="none" stroke-width="1.45"/>
<path d="M 28.05 215.70 L 41.45 215.70 M 33.95 222.30 L 33.95 209.10 M 41.45 222.30 L 41.45 209.10" fill="none" stroke-width="1.7" stroke-linejoin="round" stroke-linecap="butt"/>
<ellipse cx="35.10" cy="199.55" rx="7.05" ry="4.40" fill="none" stroke-width="1.7"/>
<circle cx="41.40" cy="189.20" r="1.4" fill="#111" stroke="none"/>
<path d="M 28.65 182.17 L 28.65 175.20 L 34.05 179.21 C 33.78 176.59 35.67 174.95 38.10 174.95 C 40.53 174.95 42.15 176.59 42.15 179.05 C 42.15 181.10 40.80 182.66 39.18 183.15" fill="none" stroke-width="1.7" stroke-linejoin="round" stroke-linecap="butt"/>
<ellipse cx="35.10" cy="165.35" rx="7.05" ry="4.60" fill="none" stroke-width="1.7"/>
<path d="M 71.05 204.00 L 83.85 204.00 M 76.68 210.60 L 76.68 197.40 M 83.85 210.60 L 83.85 197.40" fill="none" stroke-width="1.7" stroke-linejoin="round" stroke-linecap="butt"/>
<ellipse cx="78.10" cy="188.55" rx="7.05" ry="4.40" fill="none" stroke-width="1.7"/>
<circle cx="84.40" cy="177.90" r="1.4" fill="#111" stroke="none"/>
<path d="M 74.22 170.95 L 71.05 167.25 L 84.85 167.25" fill="none" stroke-width="1.7" stroke-linejoin="round" stroke-linecap="butt"/>
<ellipse cx="78.10" cy="153.85" rx="7.05" ry="4.40" fill="none" stroke-width="1.7"/>
<ellipse cx="865.65" cy="67.75" rx="5.80" ry="5.50" fill="none" stroke-width="1.6"/>
<path d="M 860.80 76.60 L 869.90 59.20" fill="none" stroke-width="1.6" stroke-linejoin="round"/>
<path d="M 876.80 62.23 L 879.50 60.00 L 879.50 76.20 M 876.80 76.20 L 882.10 76.20" fill="none" stroke-width="1.6" stroke-linejoin="round"/>
<rect x="886.90" y="73.20" width="1.80" height="3.70" fill="#000" stroke="none"/>
<path d="M 904.40 60.00 L 893.40 60.00 L 893.40 64.90 L 898.75 64.90 A 5.65 5.65 0 0 1 898.75 76.20 L 894.60 76.20 L 893.40 73.26" fill="none" stroke-width="1.6" stroke-linejoin="round"/>
<rect x="910.60" y="60.00" width="7.90" height="16.20" rx="3.95" ry="4.15" fill="none" stroke-width="1.6"/>
<path d="M 923.1 61.7 L 931 61.7 M 927.05 57.7 L 927.05 65.9" fill="none" stroke-width="1.7" stroke-linejoin="round"/>
<rect x="934.55" y="56.55" width="5.70" height="10.60" rx="2.85" ry="2.99" fill="none" stroke-width="1.3"/>
<rect x="942.90" y="65.80" width="1.40" height="2.00" fill="#000" stroke="none"/>
<path d="M 946.85 58.01 L 949.20 56.65 L 949.20 67.15 M 946.85 67.15 L 951.25 67.15" fill="none" stroke-width="1.3" stroke-linejoin="round"/>
<path d="M 923.1 75.9 L 931 75.9" fill="none" stroke-width="1.7" stroke-linejoin="round"/>
<rect x="934.55" y="70.75" width="5.70" height="10.80" rx="2.85" ry="2.99" fill="none" stroke-width="1.3"/>
<ellipse cx="655.70" cy="366.30" rx="5.05" ry="4.95" fill="none" stroke-width="1.35"/>
<path d="M 652.00 374.40 L 659.70 359.00" fill="none" stroke-width="1.35" stroke-linejoin="round"/>
<path d="M 665.70 361.45 L 667.90 359.50 L 667.90 374.10 M 665.70 374.10 L 670.10 374.10" fill="none" stroke-width="1.6" stroke-linejoin="round"/>
<rect x="674.40" y="371.20" width="1.50" height="3.70" fill="#000" stroke="none"/>
<path d="M 689.80 359.50 L 679.90 359.50 L 679.90 363.88 L 684.69 363.88 A 5.11 5.11 0 0 1 684.69 374.10 L 681.10 374.10 L 679.90 371.50" fill="none" stroke-width="1.6" stroke-linejoin="round"/>
</g></svg>
</body></html>
